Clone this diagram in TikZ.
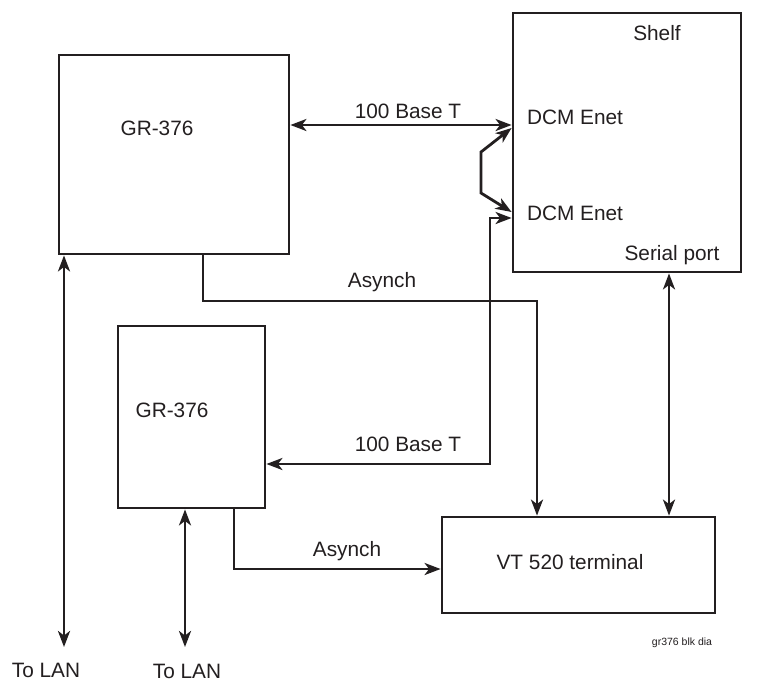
\documentclass[tikz,border=0pt]{standalone}
\usepackage{fontspec}
\setmainfont{Liberation Sans}
\usetikzlibrary{arrows.meta}
\definecolor{ink}{HTML}{231F20}
\begin{document}
\begin{tikzpicture}[x=1pt,y=-1pt,
  box/.style={draw=ink, line width=2.8pt, inner sep=0pt},
  lbl/.style={text=ink, inner sep=0pt, font=\fontsize{20.8}{25}\selectfont},
  tiny/.style={text=ink, inner sep=0pt, font=\fontsize{10.5}{12}\selectfont},
  conn/.style={draw=ink, line width=2.8pt, line join=miter,
    arrows={-}, >={Stealth[length=16pt,width=12pt,inset=4.5pt]}}]
\useasboundingbox (0,0) rectangle (771,681);
\fill[white] (0,0) rectangle (771,681);
% boxes
\node[box, minimum width=230pt, minimum height=199pt] (grA) at (174,154.5) {};
\node[box, minimum width=228pt, minimum height=259pt] (shelf) at (627,142.5) {};
\node[box, minimum width=147pt, minimum height=182pt] (grB) at (191.5,417) {};
\node[box, minimum width=273pt, minimum height=96pt] (vt) at (578.5,565) {};
% labels
\node[lbl] (tA) at (157,128) {GR-376};
\node[lbl] (tB) at (172,410) {GR-376};
\node[lbl] (tshelf) at (657,33) {Shelf};
\node[lbl] (tdcm1) at (575,117) {DCM Enet};
\node[lbl] (tdcm2) at (575,213) {DCM Enet};
\node[lbl] (tser) at (672,255) {Serial port};
\node[lbl] (tvt) at (570,562) {VT 520 terminal};
\node[lbl] (tb1) at (408,111) {100 Base T};
\node[lbl] (tb2) at (408,444) {100 Base T};
\node[lbl] (tas1) at (382,282) {Asynch};
\node[lbl] (tas2) at (347,551) {Asynch};
\node[lbl] (lan1) at (46,670) {To LAN};
\node[lbl] (lan2) at (187,671) {To LAN};
\node[tiny] (tag) at (682,643) {gr376 blk dia};
% connectors
\coordinate (lanA) at (64,647);
\coordinate (lanB) at (185,647);
\draw[conn,<->] (grA.east |- 0,125) -- (shelf.west |- 0,125);
\draw[conn,<->] (shelf.west |- 0,128) -- (481,152) -- (481,193) -- (shelf.west |- 0,212);
\draw[conn,<->] (shelf.west |- 0,218) -- (490,218) -- (490,464) -- (grB.east |- 0,464);
\draw[conn,->] (grA.south -| 203,0) -- (203,301) -- (537,301) -- (vt.north -| 537,0);
\draw[conn,<->] (shelf.south -| 669,0) -- (vt.north -| 669,0);
\draw[conn,<->] (grA.south -| lanA) -- (lanA);
\draw[conn,<->] (grB.south -| lanB) -- (lanB);
\draw[conn,->] (grB.south -| 234,0) -- (234,569) -- (vt.west |- 0,569);
\end{tikzpicture}
\end{document}
